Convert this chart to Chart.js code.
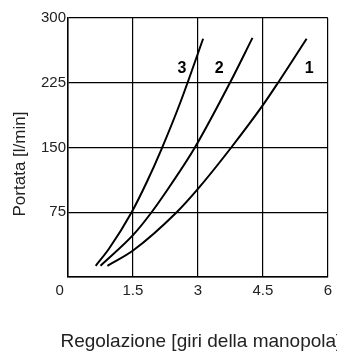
<!DOCTYPE html>
<html>
<head>
<meta charset="utf-8">
<script src="https://cdn.jsdelivr.net/npm/chart.js@4.4.1/dist/chart.umd.min.js"></script>
<style>
  html, body { margin: 0; padding: 0; background: #fff; }
  #chart { display: block; }
</style>
</head>
<body>
<canvas id="chart" width="337" height="354"></canvas>
<script>
// curva 1, 2, 3 (giri manopola -> portata l/min)
const curva1X = [0.91, 1.51, 2.51, 3.0, 3.77, 4.5, 4.85, 5.51];
const curva1Y = [13, 31, 75, 102, 150, 199, 225, 276];
const curva2X = [0.75, 1.51, 1.93, 2.39, 2.93, 3.74, 4.26];
const curva2Y = [13, 49, 75, 108, 150, 225, 277];
const curva3X = [0.64, 0.95, 1.47, 1.82, 2.15, 2.6, 3.12];
const curva3Y = [13, 33, 75, 110, 147, 203, 276];

const xTicks = [0, 1.5, 3, 4.5, 6];
const yTicks = [0, 75, 150, 225, 300];

// etichette delle curve
const etichette = ['1', '2', '3'];
const etichetteX = [5.57, 3.49, 2.63];
const etichetteY = [241, 241, 241];

const titoloX = 'Regolazione [giri della manopola]';
const titoloY = 'Portata [l/min]';

const punti = (xs, ys) => xs.map((x, i) => ({ x: x, y: ys[i] }));

const stileCurva = {
    borderColor: '#000',
    borderWidth: 2,
    pointRadius: 0,
    showLine: true,
    fill: false,
    cubicInterpolationMode: 'monotone',
};

// etichette curve + titolo asse x (che puo' uscire dal bordo come nell'originale)
const etichettePlugin = {
    id: 'etichette',
    afterDatasetsDraw(chart) {
        const ctx = chart.ctx;
        const xs = chart.scales.x;
        const ys = chart.scales.y;
        ctx.save();
        ctx.fillStyle = '#000';
        ctx.font = 'bold 16px "Liberation Sans", Arial, sans-serif';
        ctx.textAlign = 'center';
        ctx.textBaseline = 'middle';
        etichette.forEach((t, i) => {
            ctx.fillText(t, xs.getPixelForValue(etichetteX[i]), ys.getPixelForValue(etichetteY[i]));
        });

        const area = chart.chartArea;
        ctx.fillStyle = '#222';
        ctx.font = '19px "Liberation Sans", Arial, sans-serif';
        ctx.textBaseline = 'alphabetic';
        ctx.fillText(titoloX, (area.left + area.right) / 2 + 3, chart.height - 7);
        ctx.restore();
    }
};

const tickFont = { family: '"Liberation Sans", Arial, sans-serif', size: 15 };

new Chart(document.getElementById('chart'), {
    type: 'scatter',
    data: {
        datasets: [
            { label: '1', data: punti(curva1X, curva1Y), ...stileCurva },
            { label: '2', data: punti(curva2X, curva2Y), ...stileCurva },
            { label: '3', data: punti(curva3X, curva3Y), ...stileCurva },
        ],
    },
    options: {
        responsive: false,
        animation: false,
        layout: { padding: { top: 18, right: 9, left: 0, bottom: 0 } },
        plugins: { legend: { display: false }, tooltip: { enabled: false } },
        scales: {
            x: {
                type: 'linear',
                min: 0,
                max: 6,
                afterFit: (s) => { s.height = 77; },
                afterBuildTicks: (s) => { s.ticks = xTicks.map(v => ({ value: v })); },
                grid: { color: '#000', lineWidth: 1.2, drawTicks: false },
                border: { color: '#000', width: 1.5 },
                ticks: {
                    padding: 5,
                    color: '#222',
                    font: tickFont,
                    maxRotation: 0,
                    callback: (v) => v === 0 ? '0\u00a0\u00a0\u00a0\u00a0' : String(v),
                },
                title: { display: false },
            },
            y: {
                type: 'linear',
                min: 0,
                max: 300,
                afterFit: (s) => { s.width = 68; },
                afterBuildTicks: (s) => { s.ticks = yTicks.map(v => ({ value: v })); },
                grid: { color: '#000', lineWidth: 1.2, drawTicks: false },
                border: { color: '#000', width: 1.5 },
                ticks: {
                    padding: 2,
                    color: '#222',
                    font: tickFont,
                    callback: (v) => v === 0 ? '' : String(v),
                },
                title: {
                    display: true,
                    text: titoloY + '\u00a0\u00a0\u00a0\u00a0\u00a0\u00a0\u00a0',
                    color: '#222',
                    font: { family: '"Liberation Sans", Arial, sans-serif', size: 17 },
                    padding: { top: 10, bottom: 0 },
                },
            },
        },
    },
    plugins: [etichettePlugin],
});
</script>
</body>
</html>
